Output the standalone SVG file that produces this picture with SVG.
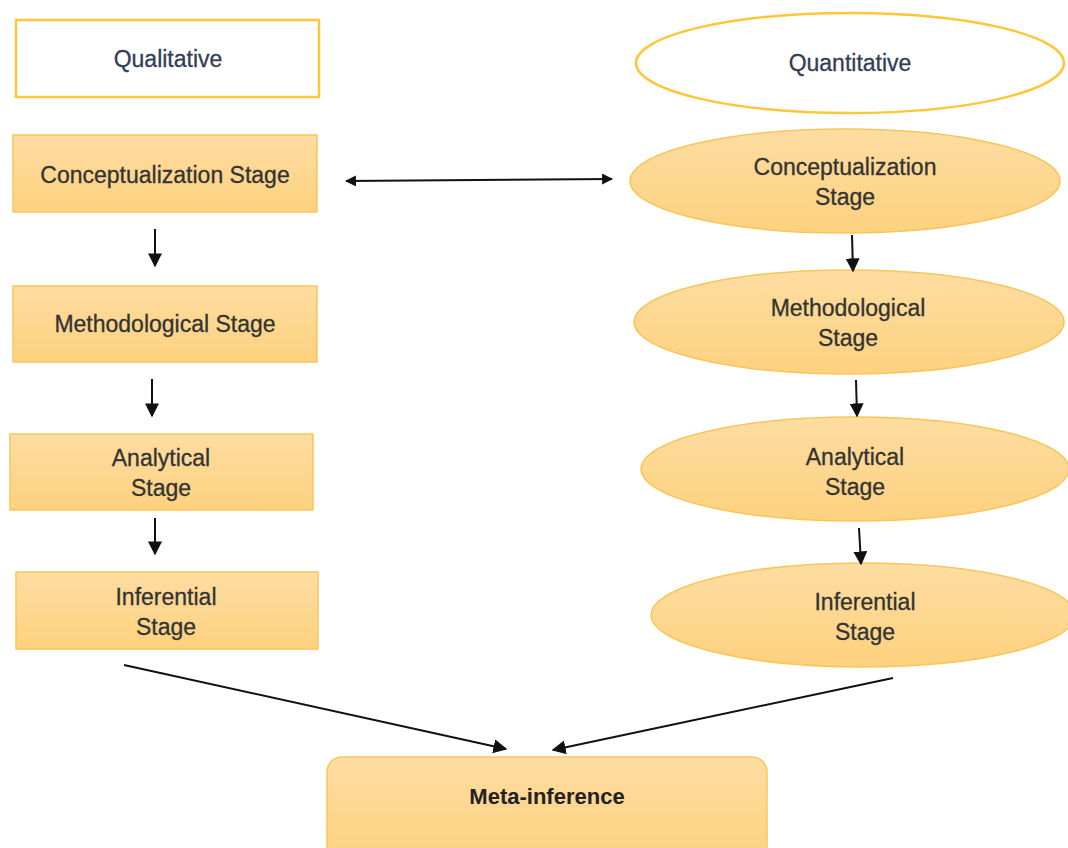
<svg xmlns="http://www.w3.org/2000/svg" width="1068" height="848" viewBox="0 0 1068 848">
  <defs>
    <linearGradient id="stageFill" x1="0" y1="0" x2="0" y2="1">
      <stop offset="0" stop-color="#FEDDA2"/>
      <stop offset="1" stop-color="#FDD17E"/>
    </linearGradient>
    <marker id="head" viewBox="0 0 10 10" refX="9" refY="5" markerWidth="11" markerHeight="11" markerUnits="userSpaceOnUse" orient="auto-start-reverse">
      <path d="M0,0 L10,5 L0,10 z" fill="#111"/>
    </marker>
    <marker id="headBig" viewBox="0 0 10 10" refX="9" refY="5" markerWidth="14" markerHeight="14" markerUnits="userSpaceOnUse" orient="auto-start-reverse">
      <path d="M0,0 L10,5 L0,10 z" fill="#111"/>
    </marker>
  </defs>
  <style>
    .title { fill: #FFFFFF; stroke: #FFC637; stroke-width: 2.5; }
    .stage { fill: url(#stageFill); stroke: #F7C65A; stroke-width: 1.5; }
    .meta { fill: url(#stageFill); stroke: #F7C65A; stroke-width: 1.5; }
    .lbl { font-family: "Liberation Sans", Arial, sans-serif; font-size: 23px; fill: #333333; stroke: #333333; stroke-width: 0.3; text-anchor: middle; }
    .hdr { font-family: "Liberation Sans", Arial, sans-serif; font-size: 23px; fill: #323D55; stroke: #323D55; stroke-width: 0.3; text-anchor: middle; }
    .bold { font-family: "Liberation Sans", Arial, sans-serif; font-size: 22px; font-weight: bold; fill: #222222; text-anchor: middle; }
    .conn { stroke: #111111; stroke-width: 2; fill: none; }
  </style>
  <rect width="1068" height="848" fill="#FFFFFF"/>

  <!-- Qualitative strand -->
  <g id="qualitative">
    <rect class="title" x="16" y="20" width="303" height="77"/>
    <text class="hdr" x="168" y="67">Qualitative</text>
  </g>
  <g id="qual-conceptualization">
    <rect class="stage" x="13" y="135" width="304" height="77"/>
    <text class="lbl" x="165" y="183">Conceptualization Stage</text>
  </g>
  <g id="qual-methodological">
    <rect class="stage" x="13" y="286" width="304" height="76"/>
    <text class="lbl" x="165" y="332">Methodological Stage</text>
  </g>
  <g id="qual-analytical">
    <rect class="stage" x="10" y="434" width="303" height="76"/>
    <text class="lbl" x="161" y="466">Analytical</text>
    <text class="lbl" x="161" y="496">Stage</text>
  </g>
  <g id="qual-inferential">
    <rect class="stage" x="16" y="572" width="302" height="77"/>
    <text class="lbl" x="166" y="605">Inferential</text>
    <text class="lbl" x="166" y="635">Stage</text>
  </g>

  <!-- Quantitative strand -->
  <g id="quantitative">
    <ellipse class="title" cx="850" cy="63" rx="214" ry="50"/>
    <text class="hdr" x="850" y="71">Quantitative</text>
  </g>
  <g id="quant-conceptualization">
    <ellipse class="stage" cx="845" cy="181" rx="215" ry="52"/>
    <text class="lbl" x="845" y="175">Conceptualization</text>
    <text class="lbl" x="845" y="205">Stage</text>
  </g>
  <g id="quant-methodological">
    <ellipse class="stage" cx="849" cy="322" rx="215" ry="52"/>
    <text class="lbl" x="848" y="316">Methodological</text>
    <text class="lbl" x="848" y="346">Stage</text>
  </g>
  <g id="quant-analytical">
    <ellipse class="stage" cx="855" cy="469" rx="214" ry="52"/>
    <text class="lbl" x="855" y="465">Analytical</text>
    <text class="lbl" x="855" y="495">Stage</text>
  </g>
  <g id="quant-inferential">
    <ellipse class="stage" cx="863" cy="615" rx="212" ry="52"/>
    <text class="lbl" x="865" y="610">Inferential</text>
    <text class="lbl" x="865" y="640">Stage</text>
  </g>

  <!-- Merge point -->
  <g id="meta-inference">
    <rect class="meta" x="327" y="757" width="440" height="106" rx="15"/>
    <text class="bold" x="547" y="804">Meta-inference</text>
  </g>

  <!-- Connectors -->
  <g id="connectors">
    <line class="conn" x1="346" y1="181" x2="612" y2="179" marker-start="url(#head)" marker-end="url(#head)"/>
    <line class="conn" x1="155" y1="229" x2="155" y2="266" marker-end="url(#headBig)"/>
    <line class="conn" x1="152" y1="379" x2="152" y2="416" marker-end="url(#headBig)"/>
    <line class="conn" x1="155" y1="518" x2="155" y2="554" marker-end="url(#headBig)"/>
    <line class="conn" x1="852" y1="235" x2="853" y2="271" marker-end="url(#headBig)"/>
    <line class="conn" x1="856" y1="380" x2="857" y2="416" marker-end="url(#headBig)"/>
    <line class="conn" x1="859" y1="528" x2="861" y2="564" marker-end="url(#headBig)"/>
    <line class="conn" x1="124" y1="665" x2="506" y2="749" marker-end="url(#headBig)"/>
    <line class="conn" x1="893" y1="678" x2="553" y2="750" marker-end="url(#headBig)"/>
  </g>
</svg>
